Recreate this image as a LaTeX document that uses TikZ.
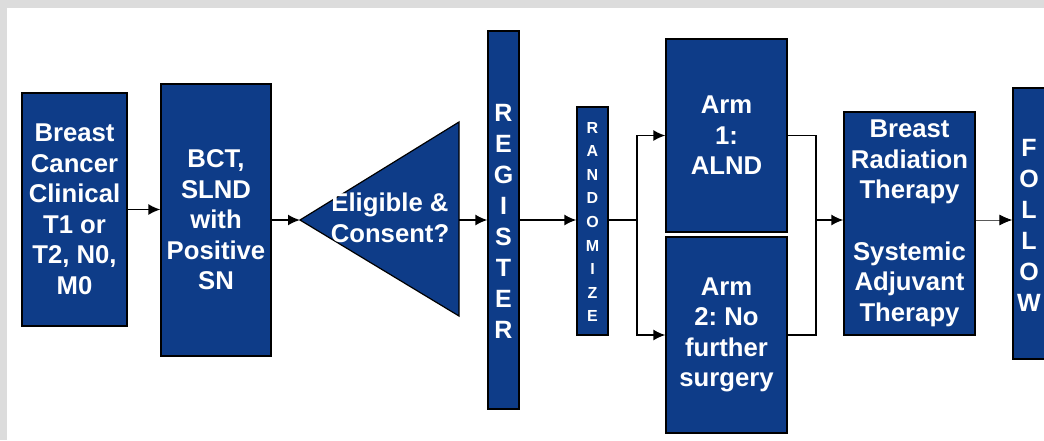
\documentclass[tikz,border=0pt]{standalone}
\usepackage{fontspec}
\setmainfont{Liberation Sans}
\usetikzlibrary{arrows.meta}
\definecolor{boxblue}{RGB}{14,60,136}
\definecolor{framegray}{RGB}{220,220,220}
\frenchspacing
\begin{document}
\begin{tikzpicture}[x=1pt,y=-1pt,
  bluebox/.style={draw=black,line width=1.2pt,fill=boxblue,text=white,inner sep=0pt,align=center,
    font=\fontsize{25.7}{30.5}\selectfont\bfseries},
  conn/.style={line width=1.8pt,-{Latex[length=12pt,width=11pt]}},
  plainline/.style={line width=1.8pt},
  thinconn/.style={line width=0.9pt,draw=black!65,-{Latex[length=13pt,width=11pt,color=black]}}]
\useasboundingbox (0,0) rectangle (1044,440);
\clip (0,0) rectangle (1044,440);
\fill[framegray] (0,0) rectangle (1044,440);
\fill[white] (7,8) rectangle (1044,440);

\node[bluebox,minimum width=105pt,minimum height=233pt] (b1) at (74.5,209.5)
  {Breast\\Cancer\\Clinical\\T1 or\\T2, N0,\\M0};
\node[bluebox,minimum width=110pt,minimum height=272pt] (b2) at (216,220)
  {BCT,\\SLND\\with\\Positive\\SN};

\coordinate (tril) at (300,220);
\coordinate (trir) at (459,220);
\fill[boxblue,draw=black,line width=1.2pt] (tril) -- (459,122) -- (459,316) -- cycle;
\node[text=white,align=center,inner sep=0pt,font=\fontsize{25.7}{30.5}\selectfont\bfseries] (elig) at (390,218)
  {Eligible \&\\Consent?};

\node[bluebox,minimum width=31pt,minimum height=378pt] (reg) at (503.5,220) {};
\node[text=white,align=center,inner sep=0pt,font=\fontsize{25}{31}\selectfont\bfseries] (regt) at (503.5,221)
  {R\\E\\G\\I\\S\\T\\E\\R};

\node[bluebox,minimum width=31pt,minimum height=228pt] (rand) at (592.5,221) {};
\node[text=white,align=center,inner sep=0pt,font=\fontsize{16}{23.6}\selectfont\bfseries] (randt) at (592.5,222)
  {R\\A\\N\\D\\O\\M\\I\\Z\\E};

\node[bluebox,minimum width=121pt,minimum height=193pt] (arm1) at (726.5,135.5)
  {Arm\\1:\\ALND};
\node[bluebox,minimum width=121pt,minimum height=196pt] (arm2) at (726.5,335)
  {Arm\\2: No\\further\\surgery};

\node[bluebox,minimum width=131pt,minimum height=223pt] (brt) at (909.5,223.5)
  {Breast\\Radiation\\Therapy\\[31pt]Systemic\\Adjuvant\\Therapy};

\node[bluebox,minimum width=33pt,minimum height=271pt] (fol) at (1029.5,223.5) {};
\node[text=white,align=center,inner sep=0pt,font=\fontsize{25}{31}\selectfont\bfseries] (folt) at (1029,225)
  {F\\O\\L\\L\\O\\W};

\coordinate (split) at (637,220);
\coordinate (merge) at (816,220);

\draw[conn] (b1.east) -- (b1.east -| b2.west);
\draw[conn] (b2.east |- tril) -- (tril);
\draw[conn] (trir) -- (trir -| reg.west);
\draw[conn] (reg.east |- split) -- (split -| rand.west);
\draw[plainline] (rand.east |- split) -- (split);
\draw[conn] (split) |- (arm1.west);
\draw[conn] (split) |- (arm2.west);
\draw[plainline] (arm1.east) -| (merge) |- (arm2.east);
\draw[conn] (merge) -- (merge -| brt.west);
\draw[thinconn] (brt.east |- merge) -- (merge -| fol.west);
\end{tikzpicture}
\end{document}
